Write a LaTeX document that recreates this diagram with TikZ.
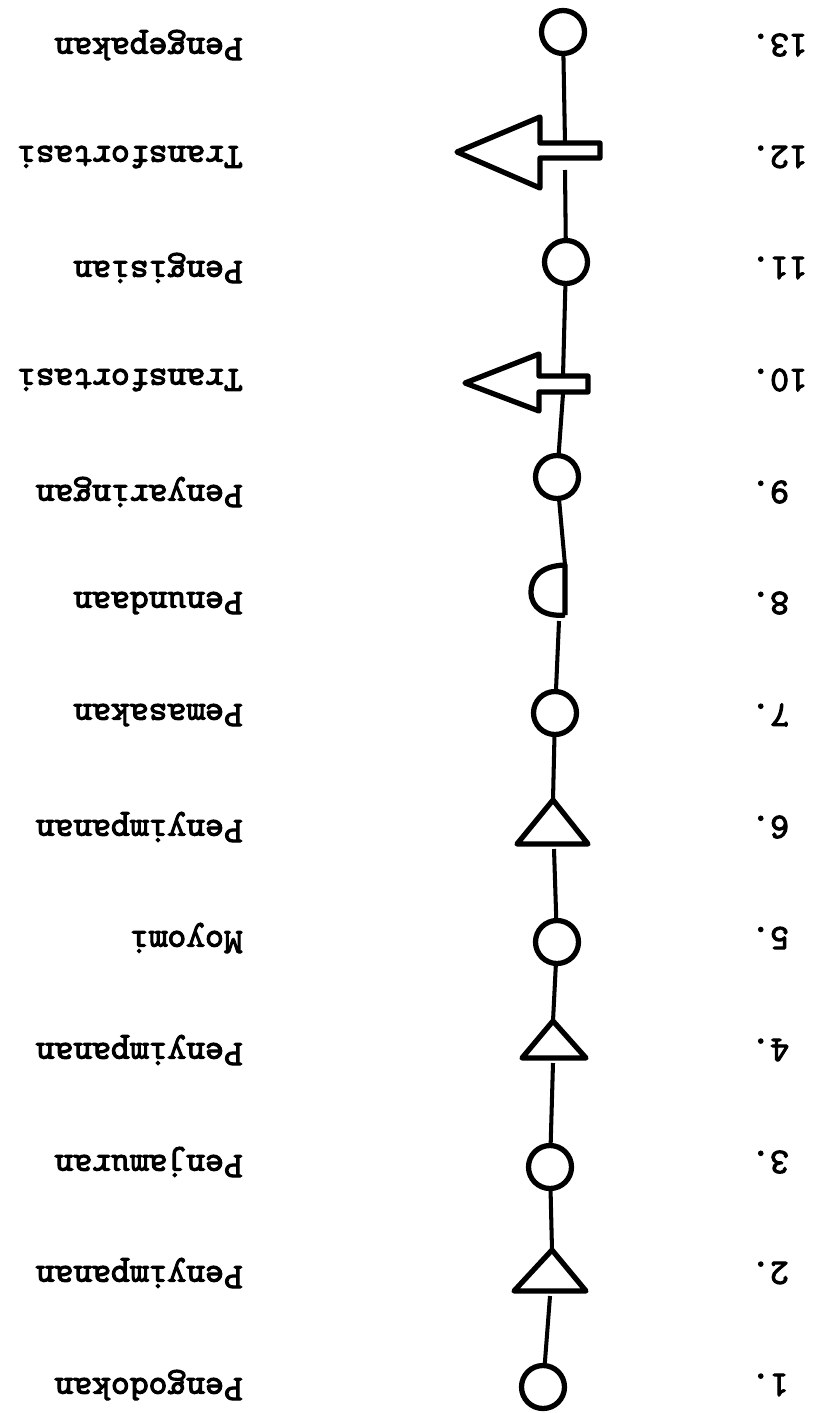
\documentclass[tikz,border=0pt]{standalone}
\usepackage{fontspec}
\newfontfamily\ketik{lmmono10-regular}[Extension=.otf, FakeBold=3]
\tikzset{
  lbl/.style={font=\fontsize{20.4}{24}\selectfont\ketik, rotate=180, anchor=west, inner sep=0pt},
  num/.style={font=\fontsize{20.4}{24}\selectfont\ketik, rotate=180, anchor=east, inner sep=0pt},
  opc/.style={circle, draw, line width=3pt, minimum size=0.86cm, inner sep=0pt},
  sym/.style={line width=3pt, line join=round},
  lnk/.style={line width=2.3pt}
}
\begin{document}
\begin{tikzpicture}[x=0.02cm, y=-0.02cm]
                \useasboundingbox (0,0) rectangle (827,1413);
                % nomor
                \node[num] (n1) at (751,1385) {1.};
                \node[num] (n2) at (751,1273) {2.};
                \node[num] (n3) at (751,1162) {3.};
                \node[num] (n4) at (751,1050) {4.};
                \node[num] (n5) at (751,938) {5.};
                \node[num] (n6) at (751,827) {6.};
                \node[num] (n7) at (751,715) {7.};
                \node[num] (n8) at (751,603) {8.};
                \node[num] (n9) at (751,492) {9.};
                \node[num] (n10) at (751,380) {10.};
                \node[num] (n11) at (751,268) {11.};
                \node[num] (n12) at (751,157) {12.};
                \node[num] (n13) at (751,45) {13.};
                % kegiatan
                \node[lbl] (l1) at (243,1385) {Pengodokan};
                \node[lbl] (l2) at (243,1273) {Penyimpanan};
                \node[lbl] (l3) at (243,1162) {Penjamuran};
                \node[lbl] (l4) at (243,1050) {Penyimpanan};
                \node[lbl] (l5) at (243,938) {Moyomi};
                \node[lbl] (l6) at (243,827) {Penyimpanan};
                \node[lbl] (l7) at (243,715) {Pemasakan};
                \node[lbl] (l8) at (243,603) {Penundaan};
                \node[lbl] (l9) at (243,492) {Penyaringan};
                \node[lbl] (l10) at (243,380) {Transfortasi};
                \node[lbl] (l11) at (243,268) {Pengisian};
                \node[lbl] (l12) at (243,157) {Transfortasi};
                \node[lbl] (l13) at (243,45) {Pengepakan};
                % operasi
                \node[opc] (c1) at (543,1387) {};
                \node[opc] (c3) at (550,1167) {};
                \node[opc] (c5) at (557,942) {};
                \node[opc] (c7) at (555,713) {};
                \node[opc] (c9) at (557,477) {};
                \node[opc] (c11) at (566,262) {};
                \node[opc] (c13) at (563,32) {};
                % simpan
                \draw[sym] (552,1250) -- (586,1291) -- (514,1291) -- cycle;
                \coordinate (t2in) at (552,1250);
                \coordinate (t2out) at (550,1296);
                \draw[sym] (553,1021) -- (586,1058) -- (522,1058) -- cycle;
                \coordinate (t4in) at (553,1021);
                \coordinate (t4out) at (553,1063);
                \draw[sym] (553,800) -- (588,844) -- (517,844) -- cycle;
                \coordinate (t6in) at (553,800);
                \coordinate (t6out) at (554,849);
                % tunda
                \draw[sym] (565,615) -- (565,565) .. controls (538,566) and (531,580) .. (531,592)
                           .. controls (531,608) and (545,617) .. (565,615);
                \coordinate (d8in) at (565,565);
                \coordinate (d8out) at (559,621);
                % angkut
                \draw[sym] (457,152) -- (540,117) -- (540,143) -- (600,143) -- (600,158)
                           -- (540,158) -- (540,188) -- cycle;
                \coordinate (a12in) at (565,143);
                \coordinate (a12out) at (565,170);
                \draw[sym] (465,383) -- (539,354) -- (539,376) -- (588,376) -- (588,392)
                           -- (539,392) -- (539,411) -- cycle;
                \coordinate (a10in) at (563,376);
                \coordinate (a10out) at (563,394);
                % garis alir
                \draw[lnk] (c1) -- (t2out);
                \draw[lnk] (t2in) -- (c3);
                \draw[lnk] (c3) -- (t4out);
                \draw[lnk] (t4in) -- (c5);
                \draw[lnk] (c5) -- (t6out);
                \draw[lnk] (t6in) -- (c7);
                \draw[lnk] (c7) -- (d8out);
                \draw[lnk] (d8in) -- (c9);
                \draw[lnk] (c9) -- (a10out);
                \draw[lnk] (a10in) -- (c11);
                \draw[lnk] (c11) -- (a12out);
                \draw[lnk] (a12in) -- (c13);
\end{tikzpicture}
\end{document}
